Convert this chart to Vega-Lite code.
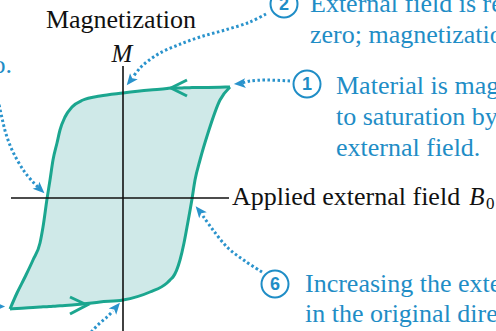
{
  "$schema": "https://vega.github.io/schema/vega-lite/v6.json",
  "width": 496,
  "height": 331,
  "autosize": {"type": "none"},
  "padding": 0,
  "background": "white",
  "config": {"view": {"stroke": null}},
  "datasets": {
    "loop": [
      {"B": -11.3, "Mtop": -11.1, "Mbot": -11.1},
      {"B": -10.6, "Mtop": -9.5, "Mbot": -11.05},
      {"B": -9.8, "Mtop": -7.9, "Mbot": -11.0},
      {"B": -9.0, "Mtop": -6.2, "Mbot": -10.95},
      {"B": -8.3, "Mtop": -4.5, "Mbot": -10.9},
      {"B": -8.0, "Mtop": -2.9, "Mbot": -10.88},
      {"B": -7.6, "Mtop": -0.1, "Mbot": -10.87},
      {"B": -7.3, "Mtop": 1.8, "Mbot": -10.85},
      {"B": -7.0, "Mtop": 3.8, "Mbot": -10.83},
      {"B": -6.6, "Mtop": 5.5, "Mbot": -10.8},
      {"B": -6.3, "Mtop": 6.8, "Mbot": -10.78},
      {"B": -5.8, "Mtop": 8.1, "Mbot": -10.75},
      {"B": -5.1, "Mtop": 9.1, "Mbot": -10.7},
      {"B": -4.0, "Mtop": 9.8, "Mbot": -10.6},
      {"B": -2.3, "Mtop": 10.2, "Mbot": -10.4},
      {"B": 0.0, "Mtop": 10.5, "Mbot": -10.2},
      {"B": 2.7, "Mtop": 10.8, "Mbot": -9.4},
      {"B": 4.4, "Mtop": 10.95, "Mbot": -8.5},
      {"B": 4.8, "Mtop": 11.0, "Mbot": -8.1},
      {"B": 5.0, "Mtop": 11.0, "Mbot": -7.9},
      {"B": 5.7, "Mtop": 11.0, "Mbot": -6.2},
      {"B": 6.1, "Mtop": 11.02, "Mbot": -4.5},
      {"B": 6.4, "Mtop": 11.02, "Mbot": -2.9},
      {"B": 6.9, "Mtop": 11.04, "Mbot": -0.1},
      {"B": 7.2, "Mtop": 11.04, "Mbot": 1.8},
      {"B": 7.7, "Mtop": 11.05, "Mbot": 3.8},
      {"B": 8.5, "Mtop": 11.06, "Mbot": 6.5},
      {"B": 9.7, "Mtop": 11.08, "Mbot": 9.8},
      {"B": 10.7, "Mtop": 11.1, "Mbot": 11.1}
    ],
    "axes": [
      {"B": -11.2, "M": 0, "B2": 10.6, "M2": 0},
      {"B": 0, "M": 13.2, "B2": 0, "M2": -14}
    ],
    "chev": [
      {"g": "top", "o": 1, "B": 6.4, "M": 11.8},
      {"g": "top", "o": 2, "B": 4.8, "M": 11.0},
      {"g": "top", "o": 3, "B": 6.4, "M": 10.2},
      {"g": "bot", "o": 1, "B": -5.3, "M": -9.9},
      {"g": "bot", "o": 2, "B": -3.6, "M": -10.7},
      {"g": "bot", "o": 3, "B": -5.3, "M": -11.6}
    ],
    "dots": [
      {"g": "a", "o": 1, "B": 14.3, "M": 18.4},
      {"g": "a", "o": 2, "B": 12.7, "M": 17.6},
      {"g": "a", "o": 3, "B": 10.2, "M": 16.8},
      {"g": "a", "o": 4, "B": 7.7, "M": 16.1},
      {"g": "a", "o": 5, "B": 5.5, "M": 15.3},
      {"g": "a", "o": 6, "B": 3.7, "M": 14.5},
      {"g": "a", "o": 7, "B": 2.5, "M": 13.7},
      {"g": "a", "o": 8, "B": 1.7, "M": 13.0},
      {"g": "a", "o": 9, "B": 1.0, "M": 12.1},
      {"g": "b", "o": 1, "B": 16.7, "M": 11.7},
      {"g": "b", "o": 2, "B": 14.2, "M": 11.8},
      {"g": "b", "o": 3, "B": 12.7, "M": 11.7},
      {"g": "b", "o": 4, "B": 11.9, "M": 11.5},
      {"g": "c", "o": 1, "B": -12.5, "M": 9.8},
      {"g": "c", "o": 2, "B": -12.1, "M": 8.0},
      {"g": "c", "o": 3, "B": -11.7, "M": 6.4},
      {"g": "c", "o": 4, "B": -11.0, "M": 4.6},
      {"g": "c", "o": 5, "B": -9.9, "M": 2.7},
      {"g": "c", "o": 6, "B": -9.0, "M": 1.6},
      {"g": "c", "o": 7, "B": -8.5, "M": 1.1},
      {"g": "d", "o": 1, "B": 13.9, "M": -7.4},
      {"g": "d", "o": 2, "B": 12.2, "M": -6.3},
      {"g": "d", "o": 3, "B": 10.5, "M": -5.0},
      {"g": "d", "o": 4, "B": 9.0, "M": -3.2},
      {"g": "d", "o": 5, "B": 8.0, "M": -1.8},
      {"g": "e", "o": 1, "B": -3.5, "M": -13.8},
      {"g": "e", "o": 2, "B": -3.0, "M": -13.2},
      {"g": "e", "o": 3, "B": -2.3, "M": -12.5},
      {"g": "e", "o": 4, "B": -1.6, "M": -11.9},
      {"g": "e", "o": 5, "B": -1.0, "M": -11.3}
    ],
    "heads": [
      {"B": 0.75, "M": 11.75, "angle": 218},
      {"B": 11.7, "M": 11.45, "angle": 265},
      {"B": -8.3, "M": 0.9, "angle": 133},
      {"B": 7.65, "M": -1.3, "angle": 321},
      {"B": -0.7, "M": -10.95, "angle": 40},
      {"B": -12.4, "M": -10.85, "angle": 90}
    ],
    "circles": [
      {"B": 16.1, "M": 19.4, "n": "2"},
      {"B": 18.4, "M": 11.4, "n": "1"},
      {"B": 15.2, "M": -8.6, "n": "6"}
    ],
    "notes": [
      {"B": 18.7, "M": 18.6, "t": "External field is reduced to"},
      {"B": 18.7, "M": 15.5, "t": "zero; magnetization remains."},
      {"B": 21.3, "M": 10.4, "t": "Material is magnetized"},
      {"B": 21.3, "M": 7.3, "t": "to saturation by"},
      {"B": 21.3, "M": 4.2, "t": "external field."},
      {"B": 18.2, "M": -9.4, "t": "Increasing the external field"},
      {"B": 18.2, "M": -12.4, "t": "in the original direction"}
    ],
    "leftnote": [
      {"B": -11.1, "M": 12.5, "t": "zero."}
    ],
    "titles": [
      {"B": -0.2, "M": 17.0, "t": "Magnetization"}
    ],
    "italics": [
      {"B": -0.1, "M": 13.6, "t": "M"},
      {"B": 35.4, "M": -0.7, "t": "B"}
    ],
    "xlabel": [
      {"B": 10.9, "M": -0.7, "t": "Applied external field"}
    ],
    "sub": [
      {"B": 36.3, "M": -1.1, "t": "0"}
    ]
  },
  "encoding": {
    "x": {"field": "B", "type": "quantitative", "scale": {"domain": [-12.3, 37.3], "nice": false, "zero": false}, "axis": null},
    "y": {"field": "M", "type": "quantitative", "scale": {"domain": [-13.3, 19.8], "nice": false, "zero": false}, "axis": null}
  },
  "layer": [
    {
      "data": {"name": "loop"},
      "mark": {"type": "area", "interpolate": "monotone", "color": "#cfe9e8", "opacity": 1},
      "encoding": {
        "y": {"field": "Mtop", "type": "quantitative"},
        "y2": {"field": "Mbot"}
      }
    },
    {
      "data": {"name": "loop"},
      "mark": {"type": "line", "interpolate": "monotone", "color": "#1ba68f", "strokeWidth": 3},
      "encoding": {"y": {"field": "Mtop", "type": "quantitative"}}
    },
    {
      "data": {"name": "loop"},
      "mark": {"type": "line", "interpolate": "monotone", "color": "#1ba68f", "strokeWidth": 3},
      "encoding": {"y": {"field": "Mbot", "type": "quantitative"}}
    },
    {
      "data": {"name": "chev"},
      "mark": {"type": "line", "color": "#1ba68f", "strokeWidth": 3, "strokeJoin": "miter"},
      "encoding": {"detail": {"field": "g"}, "order": {"field": "o"}}
    },
    {
      "data": {"name": "axes"},
      "mark": {"type": "rule", "color": "#111111", "strokeWidth": 1.6},
      "encoding": {"x2": {"field": "B2"}, "y2": {"field": "M2"}}
    },
    {
      "data": {"name": "dots"},
      "mark": {"type": "line", "color": "#2a93cc", "strokeWidth": 3, "strokeDash": [2.5, 2.5], "interpolate": "catmull-rom"},
      "encoding": {"detail": {"field": "g"}, "order": {"field": "o"}}
    },
    {
      "data": {"name": "heads"},
      "mark": {"type": "point", "shape": "M0,-1L0.8,0.9L0,0.45L-0.8,0.9Z", "filled": true, "color": "#2a93cc", "size": 150, "opacity": 1},
      "encoding": {"angle": {"field": "angle", "type": "quantitative", "scale": null}}
    },
    {
      "data": {"name": "circles"},
      "mark": {"type": "point", "shape": "circle", "size": 729, "fill": "white", "stroke": "#1f8dc6", "strokeWidth": 2, "opacity": 1, "fillOpacity": 1}
    },
    {
      "data": {"name": "circles"},
      "mark": {"type": "text", "font": "Liberation Sans", "fontWeight": "bold", "fontSize": 18, "color": "#1f8dc6", "baseline": "middle", "align": "center", "dy": 1},
      "encoding": {"text": {"field": "n"}}
    },
    {
      "data": {"name": "notes"},
      "mark": {"type": "text", "font": "Liberation Serif", "fontSize": 26, "color": "#1f8dc6", "align": "left", "baseline": "alphabetic"},
      "encoding": {"text": {"field": "t"}}
    },
    {
      "data": {"name": "leftnote"},
      "mark": {"type": "text", "font": "Liberation Serif", "fontSize": 26, "color": "#1f8dc6", "align": "right", "baseline": "alphabetic"},
      "encoding": {"text": {"field": "t"}}
    },
    {
      "data": {"name": "titles"},
      "mark": {"type": "text", "font": "Liberation Serif", "fontSize": 26, "color": "#111111", "align": "center", "baseline": "alphabetic"},
      "encoding": {"text": {"field": "t"}}
    },
    {
      "data": {"name": "italics"},
      "mark": {"type": "text", "font": "Liberation Serif", "fontSize": 25, "fontStyle": "italic", "color": "#111111", "align": "center", "baseline": "alphabetic"},
      "encoding": {"text": {"field": "t"}}
    },
    {
      "data": {"name": "xlabel"},
      "mark": {"type": "text", "font": "Liberation Serif", "fontSize": 26, "color": "#111111", "align": "left", "baseline": "alphabetic"},
      "encoding": {"text": {"field": "t"}}
    },
    {
      "data": {"name": "sub"},
      "mark": {"type": "text", "font": "Liberation Serif", "fontSize": 17, "color": "#111111", "align": "left", "baseline": "alphabetic"},
      "encoding": {"text": {"field": "t"}}
    }
  ]
}
